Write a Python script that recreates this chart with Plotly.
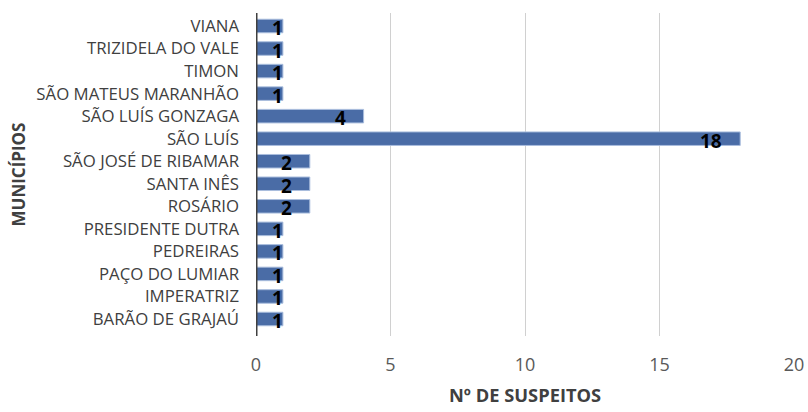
import plotly.graph_objects as go

municipios = ["BARÃO DE GRAJAÚ", "IMPERATRIZ", "PAÇO DO LUMIAR", "PEDREIRAS",
              "PRESIDENTE DUTRA", "ROSÁRIO", "SANTA INÊS", "SÃO JOSÉ DE RIBAMAR",
              "SÃO LUÍS", "SÃO LUÍS GONZAGA", "SÃO MATEUS MARANHÃO", "TIMON",
              "TRIZIDELA DO VALE", "VIANA"]
suspeitos = [1, 1, 1, 1, 1, 2, 2, 2, 18, 4, 1, 1, 1, 1]
x_ticks = [0, 5, 10, 15, 20]

font_family = "Open Sans, Liberation Sans, sans-serif"

fig = go.Figure()
fig.add_trace(go.Bar(
    y=municipios, x=suspeitos, orientation="h",
    width=0.6,
    marker=dict(color="#4A6CA6", line=dict(color="#A9BDDD", width=1)),
    hoverinfo="skip",
))

for m, v in zip(municipios, suspeitos):
    fig.add_annotation(
        x=v, y=m, xref="x", yref="y", text=f"<b>{v}</b>",
        showarrow=False, xanchor="right", yanchor="middle",
        xshift=(-16 if v > 1 else 2), yshift=-2,
        font=dict(family=font_family, size=19, color="#000000"),
    )

fig.add_annotation(
    x=(18 - 256) / 538, y=0.5, xref="paper", yref="paper",
    text="<b>MUNICÍPIOS</b>", textangle=-90, showarrow=False,
    xanchor="center", yanchor="middle",
    font=dict(family=font_family, size=17, color="#404040"),
)
fig.add_annotation(
    x=0.5, y=-(395 - 336) / 323, xref="paper", yref="paper",
    text="<b>Nº DE SUSPEITOS</b>", showarrow=False,
    xanchor="center", yanchor="middle",
    font=dict(family=font_family, size=18.3, color="#404040"),
)

fig.update_layout(
    width=808, height=412,
    margin=dict(l=256, r=14, t=13, b=76),
    paper_bgcolor="white", plot_bgcolor="white",
    showlegend=False,
)
fig.update_xaxes(
    range=[0, 20], tickvals=x_ticks, ticktext=[str(t) for t in x_ticks],
    showgrid=True, gridcolor="#D0D0D0", gridwidth=1,
    zeroline=False, showline=False, automargin=False,
    tickfont=dict(family=font_family, size=18, color="#595959"),
    ticklabelstandoff=16,
)
fig.update_yaxes(
    categoryorder="array", categoryarray=municipios,
    showgrid=False, zeroline=False, automargin=False,
    showline=False,
    tickfont=dict(family=font_family, size=16.8, color="#404040"),
    ticklabelstandoff=16,
)
fig.add_shape(type="line", xref="x", yref="paper", x0=0, x1=0, y0=0, y1=1,
              line=dict(color="#404040", width=3))

fig.write_html(
    "out.html",
    config={"displayModeBar": False},
    post_script="document.body.style.margin='0';document.body.style.overflow='hidden';",
)
